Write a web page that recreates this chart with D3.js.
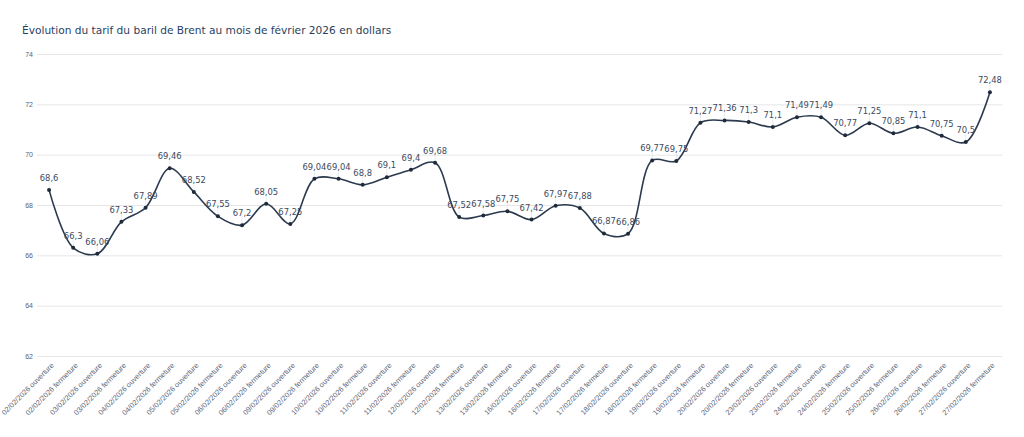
<!DOCTYPE html>
<html>
<head>
<meta charset="utf-8">
<script src="https://cdn.jsdelivr.net/npm/d3@7"></script>
<style>
  body { margin: 0; background: #fff; }
  svg { font-family: "DejaVu Sans", Verdana, sans-serif; }
</style>
</head>
<body>
<div id="chart"></div>
<script>
const days = ["02", "03", "04", "05", "06", "09", "10", "11", "12", "13",
  "16", "17", "18", "19", "20", "23", "24", "25", "26", "27"]
const sessions = ["ouverture", "fermeture"]
const categories = []
days.forEach(d => sessions.forEach(s => categories.push(d + "/02/2026 " + s)))

const prices = [68.6, 66.3, 66.06, 67.33, 67.89, 69.46, 68.52, 67.55, 67.2, 68.05,
  67.25, 69.04, 69.04, 68.8, 69.1, 69.4, 69.68, 67.52, 67.58, 67.75,
  67.42, 67.97, 67.88, 66.87, 66.86, 69.77, 69.75, 71.27, 71.36, 71.3,
  71.1, 71.49, 71.49, 70.77, 71.25, 70.85, 71.1, 70.75, 70.5, 72.48]

const yTicks = [62, 64, 66, 68, 70, 72, 74]
const title = "Évolution du tarif du baril de Brent au mois de février 2026 en dollars"

const width = 1024, height = 437
const margin = { top: 54, right: 22, bottom: 81, left: 37 }

const data = categories.map((c, i) => ({ cat: c, value: prices[i] }))
const fmt = v => String(v).replace(".", ",")

const svg = d3.select("#chart").append("svg")
  .attr("width", width)
  .attr("height", height)

const x = d3.scalePoint()
  .domain(categories)
  .range([margin.left, width - margin.right])
  .padding(0.5)

const y = d3.scaleLinear()
  .domain([62, 74])
  .range([height - margin.bottom, margin.top])

svg.append("text")
  .attr("x", 22)
  .attr("y", 34)
  .style("font-size", "10.6px")
  .style("fill", "#2a3f5f")
  .text(title)

// grid + y labels
const yAxis = svg.append("g")
  .attr("transform", "translate(" + margin.left + ",0)")
  .call(d3.axisLeft(y).tickValues(yTicks).tickSize(-(width - margin.left - margin.right)).tickPadding(4))
yAxis.select(".domain").remove()
yAxis.selectAll("line").attr("stroke", "#e6e6e6")
yAxis.selectAll("text").style("font-size", "7px").style("fill", "#5a6270")

// x labels
const xAxis = svg.append("g")
  .attr("transform", "translate(0," + (height - margin.bottom) + ")")
  .call(d3.axisBottom(x).tickSize(0).tickPadding(0))
xAxis.select(".domain").remove()
xAxis.selectAll("text")
  .style("font-size", "7.4px")
  .style("fill", "#5a6478")
  .attr("text-anchor", "end")
  .attr("dy", "0.35em")
  .attr("transform", "translate(3,8) rotate(-45)")

// connectors
svg.append("g").selectAll("line")
  .data(data)
  .enter().append("line")
  .attr("x1", d => x(d.cat))
  .attr("x2", d => x(d.cat))
  .attr("y1", d => y(d.value))
  .attr("y2", d => y(d.value) - 9)
  .attr("stroke", "#e3e6ea")
  .attr("stroke-width", 0.8)

const line = d3.line()
  .x(d => x(d.cat))
  .y(d => y(d.value))
  .curve(d3.curveCatmullRom.alpha(0.5))

svg.append("path")
  .datum(data)
  .attr("fill", "none")
  .attr("stroke", "#2b3a4f")
  .attr("stroke-width", 1.6)
  .attr("d", line)

svg.append("g").selectAll("circle")
  .data(data)
  .enter().append("circle")
  .attr("cx", d => x(d.cat))
  .attr("cy", d => y(d.value))
  .attr("r", 2)
  .attr("fill", "#1f2b3b")

svg.append("g").selectAll("text")
  .data(data)
  .enter().append("text")
  .attr("x", d => x(d.cat))
  .attr("y", d => y(d.value) - 9)
  .attr("text-anchor", "middle")
  .style("font-size", "8.4px")
  .style("fill", "#3b4a5f")
  .text(d => fmt(d.value))
</script>
</body>
</html>
